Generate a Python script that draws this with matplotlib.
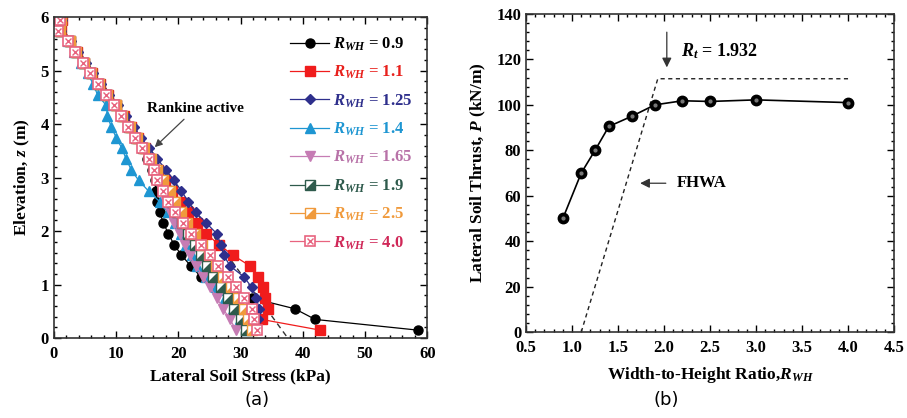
import matplotlib
matplotlib.use('Agg')
import matplotlib.pyplot as plt
from matplotlib.ticker import MultipleLocator
from matplotlib.legend_handler import HandlerTuple

plt.rcParams['font.family'] = 'Liberation Serif'
plt.rcParams['font.weight'] = 'bold'
plt.rcParams['axes.labelweight'] = 'bold'
plt.rcParams['mathtext.fontset'] = 'custom'
plt.rcParams['mathtext.rm'] = 'Liberation Serif:bold'
plt.rcParams['mathtext.it'] = 'Liberation Serif:italic:bold'
plt.rcParams['mathtext.bf'] = 'Liberation Serif:bold'

# ---- panel (a): lateral stress profiles ----
z = [5.95, 5.75, 5.55, 5.35, 5.15, 4.95, 4.75, 4.55, 4.35, 4.15,
     3.95, 3.75, 3.55, 3.35, 3.15, 2.95, 2.75, 2.55, 2.35, 2.15,
     1.95, 1.75, 1.55, 1.35, 1.15, 0.95, 0.75, 0.55, 0.35, 0.15]

s_09 = [1.2, 1.0, 2.5, 3.6, 4.8, 6.0, 7.3, 8.6, 9.8, 11.0,
        12.2, 13.3, 14.3, 15.0, 15.7, 16.2, 16.4, 16.6, 17.0, 17.6,
        18.4, 19.3, 20.5, 22.0, 23.6, 27.0, 31.8, 38.7, 42.0, 58.5]
s_11 = [1.3, 1.1, 2.6, 3.7, 4.9, 6.1, 7.4, 8.7, 10.0, 11.2,
        12.4, 13.5, 14.7, 15.8, 16.8, 17.8, 19.0, 20.3, 21.5, 23.0,
        24.5, 26.5, 28.8, 31.5, 32.8, 33.6, 34.0, 34.4, 33.4, 42.8]
s_125 = [1.3, 1.2, 2.7, 3.9, 5.1, 6.3, 7.6, 8.9, 10.3, 11.5,
         12.8, 14.0, 15.3, 16.6, 18.0, 19.3, 20.5, 21.6, 22.8, 24.5,
         26.2, 26.8, 27.3, 28.3, 30.5, 31.8, 32.5, 33.0, 32.8, 32.3]
s_14 = [1.1, 0.9, 2.2, 3.2, 4.3, 5.4, 6.3, 7.0, 8.4, 8.6,
        9.2, 10.0, 10.9, 11.6, 12.4, 13.6, 15.2, 17.0, 18.3, 19.4,
        20.4, 21.3, 22.2, 23.0, 24.5, 26.0, 27.5, 28.8, 29.9, 31.0]
s_165 = [1.1, 0.9, 2.4, 3.5, 4.7, 5.9, 7.2, 8.5, 9.8, 10.9,
         12.0, 13.1, 14.2, 15.2, 16.0, 16.8, 17.4, 18.0, 18.6, 19.3,
         20.2, 21.0, 21.8, 22.8, 24.0, 25.1, 26.2, 27.2, 28.3, 29.3]
s_19 = [1.2, 1.0, 2.5, 3.6, 4.8, 6.0, 7.3, 8.6, 9.9, 11.0,
        12.1, 13.2, 14.3, 15.4, 16.4, 17.3, 18.2, 19.0, 19.8, 20.6,
        21.5, 22.6, 23.6, 24.6, 25.6, 26.8, 28.0, 29.0, 30.0, 30.8]
s_25 = [1.2, 1.0, 2.5, 3.6, 4.8, 6.0, 7.3, 8.6, 9.9, 11.0,
        12.2, 13.3, 14.5, 15.6, 16.6, 17.6, 18.6, 19.5, 20.4, 21.4,
        22.6, 23.8, 25.0, 26.0, 27.2, 28.4, 29.6, 30.6, 31.2, 31.8]
s_40 = [1.0, 0.6, 2.3, 3.4, 4.6, 5.8, 7.1, 8.4, 9.7, 10.8,
        11.9, 13.0, 14.1, 15.2, 16.1, 16.6, 17.6, 18.3, 19.5, 20.7,
        22.1, 23.7, 25.1, 26.4, 27.9, 29.3, 30.6, 31.8, 32.2, 32.7]

rankine_x = [0.0, 37.6]
rankine_z = [6.0, 0.0]

# ---- panel (b): thrust vs width-to-height ratio ----
r_wh = [0.9, 1.1, 1.25, 1.4, 1.65, 1.9, 2.2, 2.5, 3.0, 4.0]
thrust = [50, 70, 80, 90.5, 95, 100, 101.8, 101.5, 102.2, 101]
fhwa_x = [1.1, 1.932, 4.0]
fhwa_p = [0, 111.5, 111.5]

# lower-right diagonal half of a square, drawn over an open square
half_tri = [(-1, -1), (1, -1), (1, 1), (-1, -1)]

fig = plt.figure(figsize=(9.07, 4.18), dpi=100)
ax1 = fig.add_axes([0.0595, 0.191, 0.4115, 0.768])
ax2 = fig.add_axes([0.580, 0.2057, 0.4057, 0.7608])

ms = 6.5
handles = []
labels = []

l, = ax1.plot(s_09, z, '-o', color='black', lw=0.9, ms=ms)
handles.append(l); labels.append('$R_{WH}$ = 0.9')
l, = ax1.plot(s_11, z, '-s', color='#f01c1c', lw=0.9, ms=ms)
handles.append(l); labels.append('$R_{WH}$ = 1.1')
l, = ax1.plot(s_125, z, '-D', color='#2e2f8c', lw=0.9, ms=ms - 1.5)
handles.append(l); labels.append('$R_{WH}$ = 1.25')
l, = ax1.plot(s_14, z, '-^', color='#1e96d2', lw=0.9, ms=ms)
handles.append(l); labels.append('$R_{WH}$ = 1.4')
l, = ax1.plot(s_165, z, '-v', color='#c67cb4', lw=0.9, ms=ms)
handles.append(l); labels.append('$R_{WH}$ = 1.65')

l1, = ax1.plot(s_19, z, '-s', color='#2e5a4c', mfc='white', lw=0.9, ms=ms)
l2, = ax1.plot(s_19, z, ls='none', marker=half_tri, color='#2e5a4c', ms=ms)
handles.append((l1, l2)); labels.append('$R_{WH}$ = 1.9')
l1, = ax1.plot(s_25, z, '-s', color='#f09a3c', mfc='white', lw=0.9, ms=ms)
l2, = ax1.plot(s_25, z, ls='none', marker=half_tri, color='#f09a3c', ms=ms)
handles.append((l1, l2)); labels.append('$R_{WH}$ = 2.5')
l1, = ax1.plot(s_40, z, '-s', color='#e8637f', mfc='white', lw=0.9, ms=ms + 0.5, mew=1.2)
l2, = ax1.plot(s_40, z, ls='none', marker='x', color='#e8637f', ms=ms - 1.5, mew=1.0)
handles.append((l1, l2)); labels.append('$R_{WH}$ = 4.0')

ax1.plot(rankine_x, rankine_z, color='#333333', ls=(0, (4, 3)), lw=1.0, zorder=1)
ax1.annotate('Rankine active', xy=(16.2, 3.57), xytext=(22.8, 4.3),
             ha='center', va='center', fontsize=11, fontweight='bold',
             arrowprops=dict(arrowstyle='-|>', color='#444444', lw=0.9,
                             shrinkA=2, shrinkB=0))

text_colors = ['black', '#e8201c', '#2e2f8c', '#1e96d2', '#b872a8',
               '#2e5a4c', '#f09a3c', '#d02858']
leg = ax1.legend(handles, labels, loc='upper right', bbox_to_anchor=(1.0, 0.99),
                 frameon=False, prop={'size': 12, 'weight': 'bold'},
                 labelspacing=0.66, handlelength=2.3, handletextpad=0.25,
                 handler_map={tuple: HandlerTuple(ndivide=1)})
for txt, c in zip(leg.get_texts(), text_colors):
    txt.set_color(c)

ax1.set_xlim(0, 60)
ax1.set_ylim(0, 6)
ax1.xaxis.set_major_locator(MultipleLocator(10))
ax1.xaxis.set_minor_locator(MultipleLocator(2))
ax1.yaxis.set_major_locator(MultipleLocator(1))
ax1.yaxis.set_minor_locator(MultipleLocator(0.2))
ax1.set_xlabel('Lateral Soil Stress (kPa)', fontsize=12.5, fontweight='bold', labelpad=4)
ax1.set_ylabel('Elevation, $z$ (m)', fontsize=12.5, fontweight='bold', labelpad=6)

# panel (b)
ax2.plot(fhwa_x, fhwa_p, color='#222222', ls=(0, (3, 2.5)), lw=1.0)
ax2.plot(r_wh, thrust, '-o', color='black', lw=1.2, ms=7.5)
ax2.plot(r_wh, thrust, ls='none', marker='o', color='#777777', ms=2)
ax2.annotate('', xy=(2.03, 116.5), xytext=(2.03, 132),
             arrowprops=dict(arrowstyle='-|>', color='#333333', lw=0.9,
                             mutation_scale=14, shrinkA=0, shrinkB=0))
ax2.text(2.18, 123.5, '$R_t$ = 1.932', fontsize=13, fontweight='bold',
         va='center', ha='left')
ax2.annotate('FHWA', xy=(1.74, 65.5), xytext=(2.14, 65.5), va='center',
             ha='left', fontsize=12, fontweight='bold',
             arrowprops=dict(arrowstyle='-|>', color='#333333', lw=0.9,
                             mutation_scale=14, shrinkA=6, shrinkB=0))

ax2.set_xlim(0.5, 4.5)
ax2.set_ylim(0, 140)
ax2.xaxis.set_major_locator(MultipleLocator(0.5))
ax2.xaxis.set_minor_locator(MultipleLocator(0.1))
ax2.yaxis.set_major_locator(MultipleLocator(20))
ax2.yaxis.set_minor_locator(MultipleLocator(4))
ax2.xaxis.set_major_formatter(plt.FormatStrFormatter('%.1f'))
ax2.set_xlabel('Width-to-Height Ratio,$R_{WH}$', fontsize=12.5, fontweight='bold', labelpad=6)
ax2.set_ylabel('Lateral Soil Thrust, $P$ (kN/m)', fontsize=12.5, fontweight='bold', labelpad=6)

for ax in (ax1, ax2):
    ax.tick_params(which='both', direction='in', top=True, right=True,
                   labelsize=12, width=1.0)
    ax.tick_params(which='major', length=5)
    ax.tick_params(which='minor', length=2.5)
    ax.tick_params(axis='x', which='major', pad=6)
    for lab in ax.get_xticklabels() + ax.get_yticklabels():
        lab.set_fontweight('bold')
    for sp in ax.spines.values():
        sp.set_linewidth(1.2)
        sp.set_color('#333333')

fig.text(0.283, 0.043, '(a)', fontsize=13, fontweight='normal',
         family='DejaVu Sans', ha='center', va='center')
fig.text(0.735, 0.043, '(b)', fontsize=13, fontweight='normal',
         family='DejaVu Sans', ha='center', va='center')

fig.savefig('out.png', dpi=100)
